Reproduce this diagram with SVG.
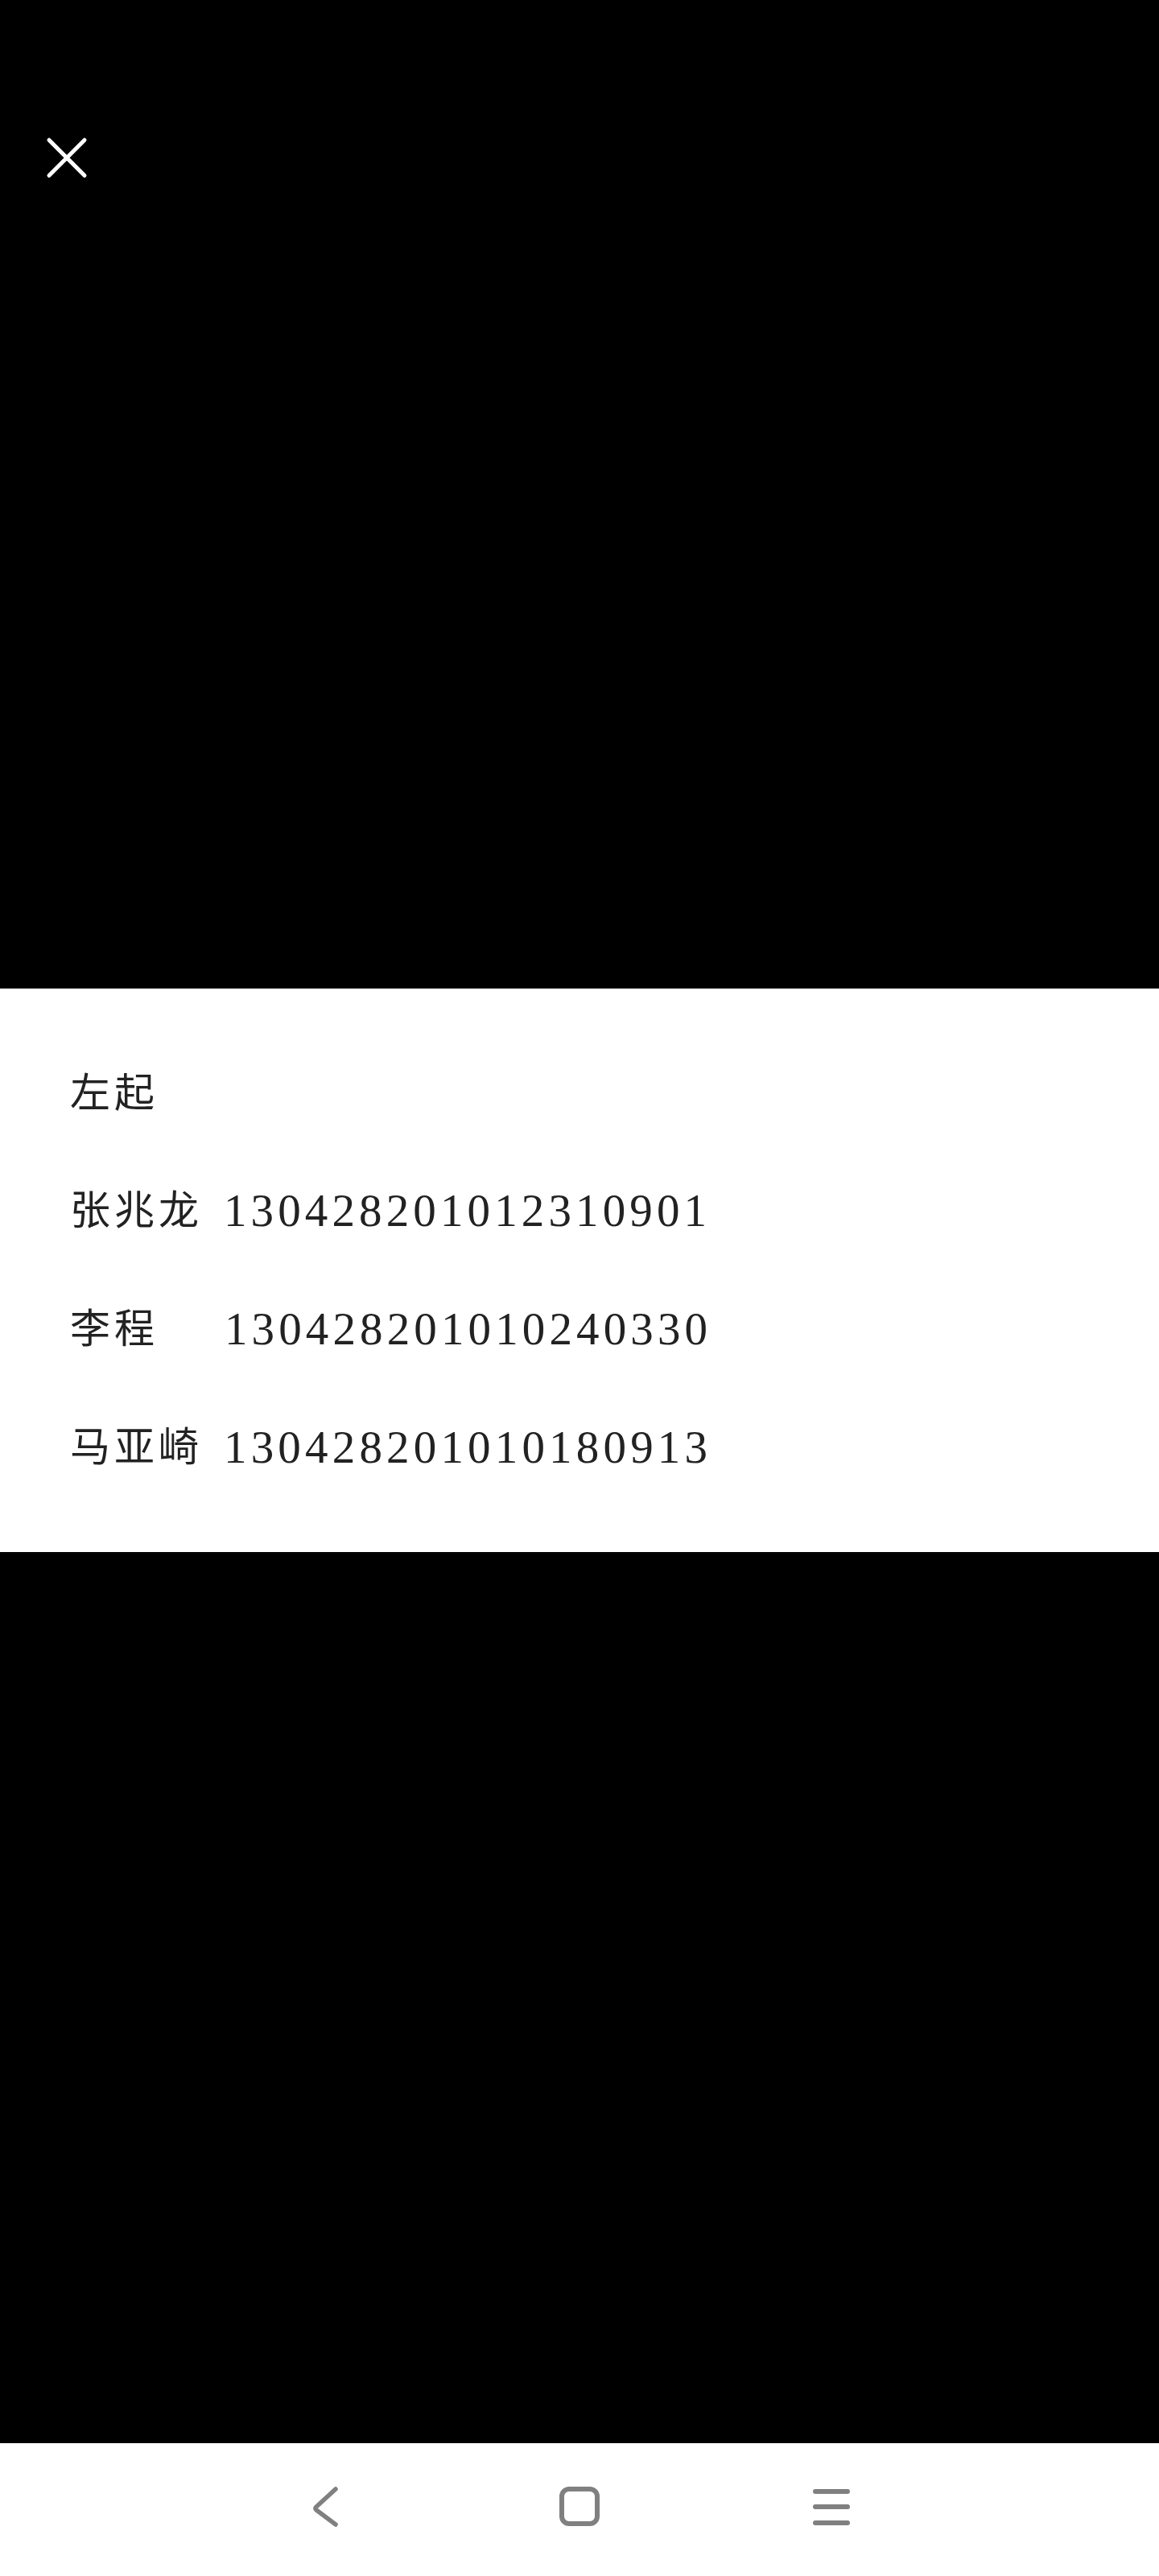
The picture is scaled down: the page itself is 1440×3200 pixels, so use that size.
<svg xmlns="http://www.w3.org/2000/svg" width="1440" height="3200" viewBox="0 0 1440 3200">
<style>
.cjk{font-family:"Noto Sans CJK SC","Noto Sans",sans-serif;font-size:50px;letter-spacing:5px;fill:#222}
.num{font-family:"Liberation Serif","DejaVu Serif",serif;font-size:57px;fill:#222}
.nav{stroke:#808080;fill:none;stroke-linecap:round;stroke-linejoin:round}
</style>
<rect x="0" y="0" width="1440" height="3200" fill="#000"/>
<g id="close">
<path d="M61 174 L105 218 M105 174 L61 218" stroke="#fff" stroke-width="5" stroke-linecap="round" fill="none"/>
</g>
<g id="panel">
<rect x="0" y="1228" width="1440" height="700" fill="#fff"/>
<text class="cjk" x="87" y="1375">左起</text>
<text class="cjk" x="87" y="1521">张兆龙</text>
<text class="num" x="278" y="1523" textLength="600" lengthAdjust="spacing">130428201012310901</text>
<text class="cjk" x="87" y="1668">李程</text>
<text class="num" x="279" y="1670" textLength="600" lengthAdjust="spacing">130428201010240330</text>
<text class="cjk" x="87" y="1815">马亚崎</text>
<text class="num" x="278" y="1817" textLength="601" lengthAdjust="spacing">130428201010180913</text>
</g>
<g id="navbar">
<rect x="0" y="3035" width="1440" height="165" fill="#fff"/>
<path class="nav" d="M417 3092 L393 3114 Q391 3116 393 3118 L417 3136" stroke-width="5.5"/>
<rect class="nav" x="698" y="3092" width="44" height="43" rx="9" stroke-width="6"/>
<path class="nav" d="M1013 3095 H1053 M1013 3114 H1053 M1013 3134 H1053" stroke-width="6"/>
</g>
</svg>
